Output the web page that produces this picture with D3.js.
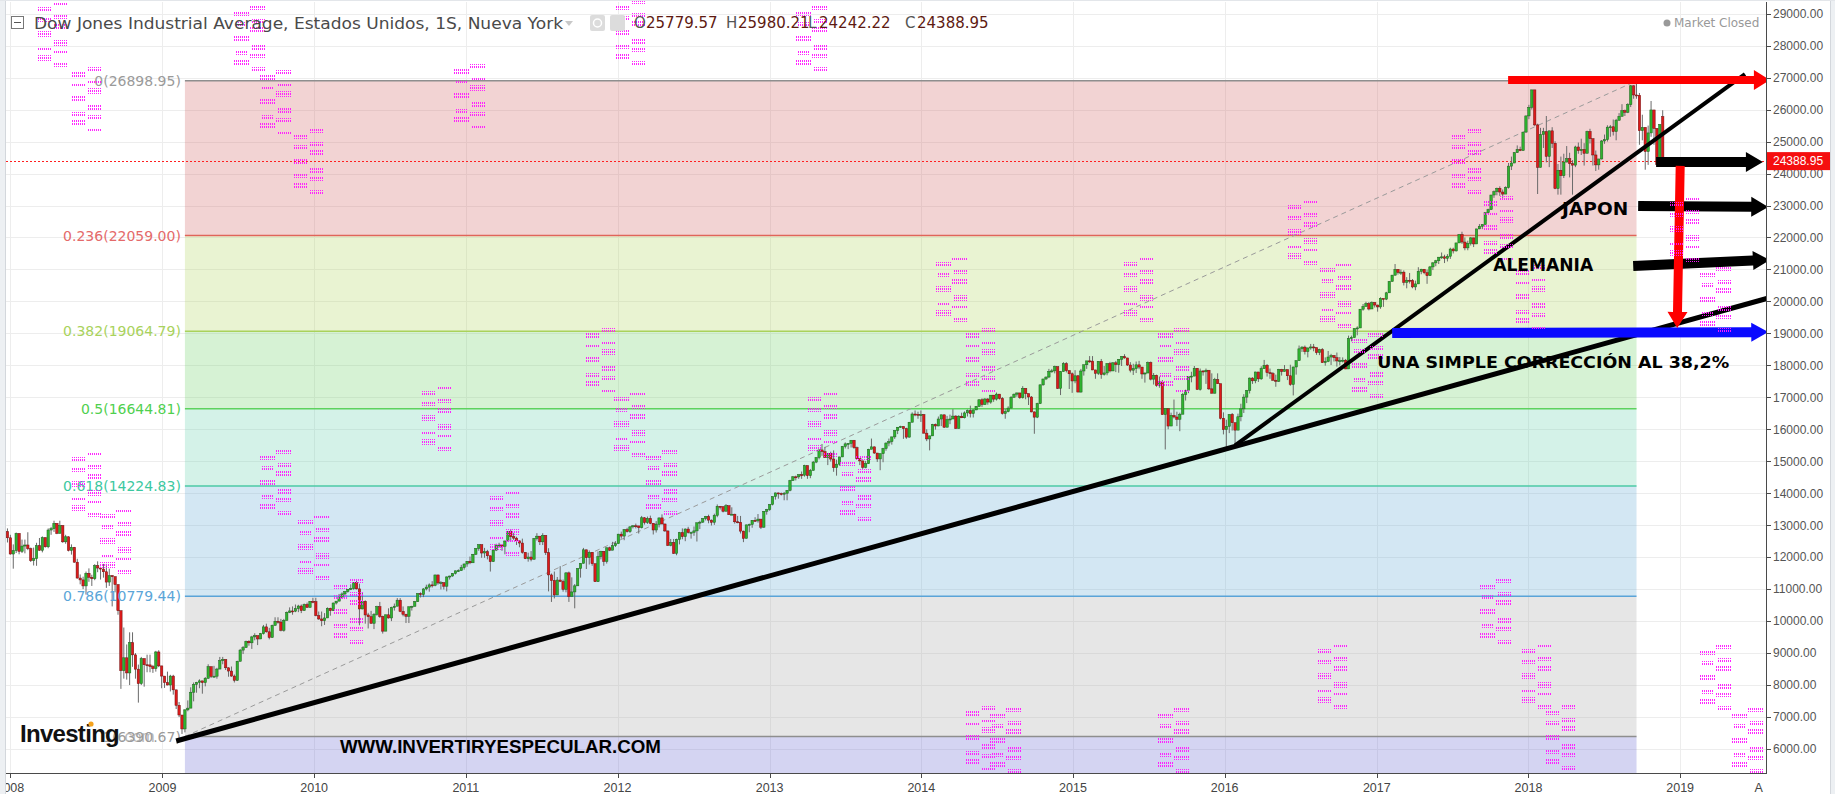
<!DOCTYPE html>
<html>
<head>
<meta charset="utf-8">
<script src="https://cdn.jsdelivr.net/npm/d3@7"></script>
<style>
  body { margin: 0; background: #fff; }
  svg { display: block; }
</style>
</head>
<body>
<div id="chart"></div>
<script>
// Dow Jones weekly candles, [close, high, low] per week, weeks start Monday 2007-12-31
const firstOpen = 13365;
const lastOpen = 25779.57;
const dj2008 = [[12800,13370,12790],[12606,12900,12460],[12099,12700,12080],[12207,12400,11640],[12743,12770,12130],[12182,12740,12090],[12348,12550,12130],[12381,12550,12120],[12266,12780,12220],
  [11894,12300,11850],[11951,12300,11740],[12361,12450,11730],[12216,12600,12200],[12609,12650,12150],
  [12325,12620,12300],[12849,12900,12280],[12892,12950,12700],[13058,13140,12790],
  [12746,13060,12720],[12987,13140,12740],[12480,13000,12450],[12638,12700,12420],
  [12210,12650,12180],[12307,12400,12080],[11843,12320,11830],[11347,11950,11330],[11289,11460,11150],
  [11101,11390,11000],[11497,11550,10830],[11371,11650,11230],[11326,11450,11100],
  [11734,11780,11280],[11660,11870,11530],[11628,11700,11300],[11544,11790,11360],
  [11221,11790,11040],[11422,11640,11100],[11388,11440,10460],[11143,11400,10900],[10325,11150,10200],
  [8451,10330,7880],[8852,9800,8200],[8379,9270,8170],[9325,9650,8000],
  [8944,9650,8570],[8497,9000,8200],[8046,8640,7450],[8829,8880,8000],
  [8635,8830,7950],[8630,8950,8400],[8579,8950,8400],[8516,8630,8380],[9035,9070,8420]];
const dj2009 = [[8599,9090,8560],[8281,8600,7900],[8078,8280,7910],[8001,8420,7990],
  [8281,8320,7800],[7850,8320,7700],[7366,7850,7250],[7063,7470,7000],
  [6627,7060,6470],[7224,7240,6520],[7278,7520,7180],[7776,7930,7280],[8018,8080,7490],
  [8083,8100,7760],[8131,8180,7900],[8076,8130,7730],[8212,8250,7960],
  [8575,8650,8200],[8269,8570,8220],[8277,8600,8240],[8500,8540,8200],
  [8763,8880,8500],[8799,8880,8650],[8540,8800,8470],[8438,8550,8260],[8281,8580,8260],
  [8147,8330,8080],[8744,8760,8130],[9093,9130,8740],[9172,9220,8970],
  [9370,9390,9180],[9321,9400,9230],[9506,9540,9130],[9544,9620,9400],[9441,9500,9250],
  [9605,9630,9440],[9820,9880,9580],[9665,9920,9640],[9488,9790,9430],
  [9865,9890,9480],[9996,10120,9860],[9972,10120,9920],[9713,10070,9680],
  [10023,10070,9670],[10270,10300,10020],[10318,10430,10250],[10310,10460,10200],[10389,10520,10280],
  [10472,10510,10280],[10329,10520,10250],[10520,10550,10330],[10428,10580,10420]];
const dj2010 = [[10618,10630,10430],[10610,10730,10560],[10173,10730,10150],[10067,10300,10040],
  [10012,10300,9840],[10099,10250,9880],[10402,10430,10100],[10325,10420,10170],
  [10566,10580,10320],[10625,10630,10520],[10742,10850,10620],[10850,10900,10700],[10927,10930,10800],
  [10997,11000,10890],[11019,11150,10970],[11204,11210,10980],[11009,11260,10990],
  [10380,11170,9870],[10620,10900,10370],[10193,10650,9920],[10137,10260,9770],
  [9932,10320,9920],[10211,10250,9750],[10451,10480,10170],[10144,10600,10100],[9686,10170,9610],
  [10198,10200,9690],[10098,10400,10080],[10425,10450,10000],[10466,10550,10330],
  [10654,10720,10470],[10303,10720,10280],[10214,10460,10150],[10151,10230,9940],[10448,10460,9940],
  [10463,10480,10330],[10608,10630,10460],[10860,10870,10600],[10830,10900,10740],
  [11006,11030,10750],[11063,11140,10960],[11133,11180,10920],[11118,11250,11050],
  [11444,11450,11090],[11193,11450,11140],[11204,11250,10990],[11092,11200,10990],[11382,11400,10930],
  [11410,11420,11300],[11492,11500,11390],[11573,11580,11460],[11578,11620,11540]];
const dj2011 = [[11675,11760,11580],[11787,11800,11610],[11872,11880,11700],[11824,12020,11780],[12092,12100,11820],
  [12273,12280,12070],[12391,12400,12200],[12130,12390,11980],[12170,12290,11980],
  [12044,12230,11930],[11859,12040,11550],[12221,12240,11850],[12377,12420,12190],
  [12380,12450,12300],[12342,12390,12200],[12506,12520,12090],[12811,12820,12500],
  [12639,12880,12480],[12596,12760,12540],[12512,12640,12380],[12442,12510,12310],[12151,12580,12110],
  [11952,12160,11940],[12004,12140,11860],[11935,12190,11870],[12583,12600,11930],
  [12657,12750,12520],[12480,12650,12380],[12681,12750,12380],[12143,12680,12070],
  [11445,12280,10930],[11269,11490,10600],[10818,11550,10710],[11285,11380,10820],[11240,11720,11220],
  [10992,11300,10920],[11509,11530,10900],[10771,11550,10600],[10913,11370,10780],
  [11103,11160,10400],[11644,11650,11100],[11809,11810,11360],[12231,12290,11800],[11983,12230,11630],
  [12154,12210,11770],[11796,12160,11730],[11232,11790,11230],[12019,12180,11250],
  [12184,12200,11930],[11866,12190,11730],[12294,12300,11800],[12218,12330,12190]];
const dj2012 = [[12360,12480,12220],[12422,12500,12320],[12720,12730,12420],[12660,12800,12580],[12862,12880,12530],
  [12801,12920,12770],[12950,12960,12760],[12983,13000,12900],[12978,13050,12900],
  [12922,12980,12740],[13233,13290,12900],[13081,13250,13020],[13212,13270,13040],
  [13060,13300,13030],[12850,13060,12710],[13029,13130,12770],[13228,13240,12930],[13038,13340,13030],
  [12821,13050,12790],[12369,12830,12350],[12455,12570,12340],[12119,12570,12100],
  [12554,12580,12060],[12767,12790,12400],[12641,12900,12560],[12880,12900,12500],
  [12772,12950,12740],[12777,12800,12580],[12823,12960,12670],[13076,13080,12490],[13096,13140,12880],
  [13208,13220,13070],[13275,13290,13150],[13158,13330,13060],[13091,13180,12990],
  [13307,13360,13010],[13593,13650,13250],[13579,13600,13490],[13437,13590,13400],
  [13610,13660,13440],[13329,13600,13320],[13344,13560,13320],[13107,13360,13050],[13093,13290,13060],
  [12815,13290,12740],[12588,12830,12470],[13010,13020,12590],[13026,13050,12780],
  [13155,13160,12920],[13135,13250,13100],[13191,13350,13080],[12938,13190,12880],[13435,13440,12920]];
const dj2013 = [[13488,13510,13330],[13650,13650,13450],[13896,13900,13620],[14010,14020,13800],
  [13993,14020,13830],[13982,14020,13930],[14001,14040,13780],[14090,14100,13780],
  [14397,14420,14060],[14514,14540,14390],[14512,14550,14400],[14579,14590,14450],
  [14565,14680,14450],[14865,14890,14520],[14548,14860,14450],[14713,14760,14470],[14974,15010,14710],
  [15118,15120,14940],[15354,15360,15060],[15303,15540,15170],[15116,15450,15110],
  [15248,15260,14880],[15070,15300,14990],[14799,15340,14670],[14910,15050,14550],
  [15136,15140,14860],[15464,15480,15130],[15544,15590,15400],[15559,15570,15380],[15658,15660,15430],
  [15426,15650,15390],[15081,15460,15070],[15011,15080,14880],[14810,15020,14760],
  [14923,15010,14780],[15376,15390,14920],[15451,15710,15380],[15258,15460,15230],[15073,15230,14980],
  [15237,15240,14720],[15400,15420,14970],[15570,15590,15330],[15616,15710,15470],
  [15762,15770,15520],[15962,15970,15700],[16065,16070,15850],[16086,16110,16040],
  [16020,16090,15700],[15755,16050,15700],[16221,16230,15740],[16478,16530,16230],[16470,16590,16410]];
const dj2014 = [[16437,16550,16330],[16459,16590,16230],[15879,16480,15870],[15699,16000,15630],
  [15794,15800,15340],[16154,16170,15790],[16103,16180,15990],[16322,16400,16100],
  [16453,16460,16100],[16066,16460,16040],[16303,16420,16060],[16323,16460,16160],[16413,16630,16320],
  [16027,16440,16010],[16409,16440,16020],[16361,16520,16350],[16513,16560,16340],
  [16583,16620,16400],[16491,16740,16370],[16606,16620,16370],[16717,16730,16600],
  [16924,16930,16700],[16776,16970,16700],[16947,16980,16760],[16852,16980,16770],[17068,17070,16800],
  [16944,17060,16860],[17100,17150,16900],[16961,17100,16930],[16493,17010,16460],
  [16554,16640,16330],[16663,16720,16530],[17001,17040,16660],[17098,17120,16990],
  [17137,17150,17020],[16988,17140,16950],[17280,17350,16960],[17113,17280,16940],[17010,17120,16760],
  [16544,17040,16530],[16380,16560,15860],[16805,16830,16350],[17391,17400,16790],
  [17574,17580,17360],[17635,17650,17540],[17810,17890,17600],[17828,17890,17770],
  [17959,17990,17750],[17281,17960,17260],[17805,17820,17070],[18054,18100,17810],[17833,18100,17780]];
const dj2015 = [[17737,17840,17260],[17512,17780,17140],[17673,17850,17440],[17165,17700,17160],
  [17824,17890,17150],[18019,18020,17680],[18140,18140,17890],[18133,18290,18080],
  [17857,18290,17850],[17749,17860,17580],[18128,18130,17700],[17713,18200,17580],[17763,17980,17680],
  [18058,18060,17690],[17826,18110,17780],[18080,18100,17820],[18024,18140,17790],
  [18191,18190,17770],[18273,18290,17980],[18232,18350,18210],[18011,18230,17980],
  [17849,18100,17780],[17899,18050,17700],[18016,18120,17760],[17947,18140,17880],[17730,17910,17580],
  [17760,17780,17460],[18086,18120,17760],[17569,18120,17530],[17690,17760,17400],
  [17373,17710,17330],[17477,17650,17300],[16460,17540,16450],[16643,16660,15370],[16102,16650,16000],
  [16433,16520,16130],[16385,16930,16340],[16315,16550,16100],[16472,16520,15940],
  [17084,17140,16480],[17216,17240,16900],[17647,17660,17130],[17664,17800,17470],
  [17910,17980,17670],[17245,17900,17240],[17824,17900,17210],[17798,17850,17680],[17848,17900,17420],
  [17265,17850,17230],[17129,17750,17120],[17552,17610,17120],[17425,17750,17420]];
const dj2016 = [[16346,17410,16310],[15988,16530,15840],[16094,16300,15450],[16466,16470,15880],
  [16205,16510,15960],[15974,16210,15500],[16392,16490,15990],[16640,16800,16250],[17007,17100,16510],
  [17213,17230,16820],[17602,17620,17120],[17516,17630,17420],[17793,17800,17440],
  [17577,17790,17480],[17897,17970,17550],[18004,18170,17890],[17774,18040,17650],
  [17741,17900,17580],[17535,17790,17520],[17501,17710,17330],[17873,17890,17480],[17807,17890,17680],
  [17865,18010,17820],[17675,17870,17540],[17401,18020,17360],[17949,17960,17060],
  [18147,18150,17710],[18517,18620,18160],[18571,18600,18420],[18432,18620,18340],
  [18544,18560,18250],[18576,18670,18490],[18553,18670,18440],[18395,18560,18330],[18492,18520,18320],
  [18085,18540,18080],[18124,18250,17990],[18261,18450,18100],[18308,18360,18010],
  [18240,18320,18120],[18138,18400,17960],[18146,18260,18000],[18161,18250,18090],[17888,18200,17880],
  [18848,18930,17900],[18868,18930,18750],[19152,19160,18900],[19170,19220,18940],
  [19757,19760,19180],[19843,19920,19710],[19934,19990,19840],[19763,19980,19720]];
const dj2017 = [[19964,19999,19780],[19886,19980,19810],[19827,19900,19680],[20094,20130,19770],[20071,20080,19830],
  [20269,20300,20040],[20624,20640,20300],[20822,20830,20620],[21006,21170,20800],
  [20903,21000,20840],[20915,21000,20830],[20597,20970,20500],[20663,20760,20410],
  [20656,20890,20560],[20453,20700,20410],[20548,20650,20350],[20941,21070,20600],
  [21007,21020,20850],[20897,21010,20850],[20805,21000,20550],[21080,21110,20820],[21206,21230,20980],
  [21272,21300,21100],[21384,21390,21170],[21395,21530,21330],[21350,21460,21200],
  [21414,21480,21250],[21638,21680,21330],[21580,21680,21500],[21830,21830,21560],[22093,22100,21850],
  [21858,22180,21800],[21675,22000,21600],[21814,21900,21600],[21988,22010,21750],
  [21798,21990,21700],[22268,22270,21980],[22350,22420,22260],[22405,22410,22260],
  [22774,22780,22420],[22872,22900,22740],[23329,23330,22870],[23434,23470,23240],[23539,23560,23320],
  [23422,23600,23300],[23358,23500,23240],[23558,23600,23360],[24232,24330,23530],
  [24329,24530,24110],[24652,24670,24330],[24754,24880,24650],[24719,24840,24700]];
const dj2018 = [[25296,25300,24770],[25803,25810,25280],[26072,26150,25700],[26617,26620,26000],[25521,26610,25490],
  [24191,25560,23360],[25219,25430,24200],[25310,25430,24800],[24538,25800,24350],
  [25336,25340,24200],[24947,25450,24800],[23533,25010,23510],[24103,24300,23340],
  [23933,24530,23340],[24360,24620,23860],[24463,24860,24350],[24311,24650,23880],[24263,24420,23340],
  [24831,24870,24200],[24715,24970,24620],[24753,25090,24580],[24635,24950,24250],
  [25317,25340,24680],[25090,25400,24940],[24581,25040,24250],[24271,24720,24080],
  [24456,24460,24120],[25019,25050,24440],[25058,25220,24930],[25451,25510,25000],[25463,25520,25150],
  [25313,25690,25190],[25669,25710,25040],[25790,25890,25650],[25965,26170,25860],
  [25917,26000,25800],[26155,26200,25890],[26744,26770,26080],[26458,26760,26340],
  [26447,26950,26340],[25340,26520,24900],[25444,25840,25040],[24688,25320,24120],[25271,25500,24270],
  [25989,26270,25150],[25413,25990,24900],[24286,25120,24260],[25538,25540,24280],
  [24389,25980,24242]];

// Fibonacci retracement drawn between the 2009 low and the 2018 high
const fibAnchors = [["2009-03-09", 6390.67], ["2018-10-01", 26898.95]];
const fibNames = ["0", "0.236", "0.382", "0.5", "0.618", "0.786", "1"];
const fibPrices = [26898.95, 22059.00, 19064.79, 16644.81, 14224.83, 10779.44, 6390.67];

// hand-drawn annotations (date, price)
const trendLines = [[["2009-02-16", 6250], ["2019-09-01", 20170]],
                    [["2016-02-08", 15500], ["2019-06-19", 27110]]];
const arrowEnds = [[["2017-11-26", 26930], ["2019-08-18", 26930]],
                   [["2018-11-17", 24360], ["2019-08-01", 24360]],
                   [["2018-10-05", 22985], ["2019-08-14", 22955]],
                   [["2018-09-23", 21110], ["2019-08-18", 21300]],
                   [["2017-02-20", 19010], ["2019-08-14", 19040]],
                   [["2019-01-14", 24240], ["2019-01-07", 19170]]];
const notes = ["JAPON", "ALEMANIA", "UNA SIMPLE CORRECCIÓN AL 38,2%", "WWW.INVERTIRYESPECULAR.COM"];
const noteAt = [["2018-04-05", 22890], ["2017-10-21", 21140], ["2017-01-15", 18105], ["2010-03-17", 6063]];

// stray magenta glyph blocks in the screenshot
const pinkAt = [["2008-03-18",29366],["2008-06-08",27333],["2009-07-05",29241],["2009-09-06",27239],["2009-11-24",25394],
  ["2010-12-16",27427],["2012-01-08",29429],["2013-03-18",29241],["2008-06-08",15290],["2008-08-17",13507],
  ["2009-09-06",15353],["2009-12-06",13320],["2010-02-28",11318],["2010-09-28",17355],["2011-03-11",14070],
  ["2011-10-28",19169],["2012-01-06",17167],["2012-03-22",15353],["2013-04-14",17167],["2013-07-02",15165],
  ["2014-02-18",21390],["2014-04-29",19169],["2014-04-29",7345],["2014-06-28",7282],["2015-05-14",21390],
  ["2015-08-07",19169],["2015-08-07",7282],["2016-06-12",23173],["2016-08-30",21202],["2016-08-23",9284],
  ["2016-11-15",19012],["2017-07-11",25394],["2017-09-27",23298],["2017-09-19",11318],["2017-12-12",21140],
  ["2017-12-27",9284],["2018-02-23",7376],["2018-12-18",23266],["2019-03-03",21077],["2019-03-03",9253],
  ["2019-05-19",7282]];

const xTickDates = ["2008-01-14","2009-01-14","2010-01-14","2011-01-14","2012-01-14","2013-01-14",
  "2014-01-14","2015-01-14","2016-01-14","2017-01-14","2018-01-14","2019-01-14","2019-07-27"];
const xTickLabels = ["2008","2009","2010","2011","2012","2013","2014","2015","2016","2017","2018","2019","A"];

const title = "Dow Jones Industrial Average, Estados Unidos, 1S, Nueva York";
const ohlcKeys = ["O", "H", "L", "C"];
const ohlcValues = ["25779.57", "25980.21", "24242.22", "24388.95"];
const lastPrice = 24388.95;

(function() {
  const W = 1835, H = 794;
  const left = 6, right = 1766, top = 2, bottom = 773;
  const parse = d3.timeParse("%Y-%m-%d");

  const svg = d3.select("#chart").append("svg")
    .attr("width", W).attr("height", H)
    .style("font-family", "'Liberation Sans', Arial, sans-serif");

  const x = d3.scaleTime()
    .domain([new Date(2009, 2, 2), new Date(2018, 11, 3)])
    .range([182, 1662.7]);
  const y = d3.scaleLinear().domain([5249, 29366]).range([bottom, top]);
  const px = p => [x(parse(p[0])), y(p[1])];

  const defs = svg.append("defs");
  defs.append("clipPath").attr("id", "plotclip")
    .append("rect").attr("x", left).attr("y", top).attr("width", right - left).attr("height", bottom - top);
  const pat = defs.append("pattern").attr("id", "pinkdots")
    .attr("patternUnits", "userSpaceOnUse").attr("width", 2).attr("height", 3);
  pat.append("rect").attr("width", 1).attr("height", 2).attr("fill", "#ff1aff");

  svg.append("rect").attr("width", W).attr("height", H).attr("fill", "#fff");

  const plot = svg.append("g").attr("clip-path", "url(#plotclip)");

  // grid
  const yTicks = d3.range(6000, 29001, 1000);
  plot.append("g").selectAll("line").data(yTicks).join("line")
    .attr("x1", left).attr("x2", right)
    .attr("y1", d => Math.round(y(d)) + 0.5).attr("y2", d => Math.round(y(d)) + 0.5)
    .attr("stroke", "#ededed");
  plot.append("g").selectAll("line").data(xTickDates.slice(0, 12)).join("line")
    .attr("x1", d => Math.round(x(parse(d))) + 0.5).attr("x2", d => Math.round(x(parse(d))) + 0.5)
    .attr("y1", top).attr("y2", bottom)
    .attr("stroke", "#ededed");

  // fib bands
  const fx1 = x(parse(fibAnchors[0][0])), fx2 = x(parse(fibAnchors[1][0]));
  const bandColors = ["rgb(212,108,108)", "rgb(182,215,105)", "rgb(118,212,112)", "rgb(112,212,178)",
                      "rgb(108,175,215)", "rgb(172,172,172)", "rgb(112,112,212)"];
  const lineColors = ["#8e8e8e", "#e0645a", "#a9d25c", "#5ed25e", "#4ccaa6", "#5aa4d8", "#8e8e8e"];
  const labelColors = ["#9a9a9a", "#e46a6a", "#a9d25c", "#4fd04f", "#3cc8a0", "#5aa5d8", "#9a9a9a"];
  const bandEdges = fibPrices.concat([y.domain()[0]]);
  plot.append("g").selectAll("rect").data(bandColors).join("rect")
    .attr("x", fx1).attr("width", fx2 - fx1)
    .attr("y", (d, i) => y(bandEdges[i]))
    .attr("height", (d, i) => y(bandEdges[i + 1]) - y(bandEdges[i]))
    .attr("fill", d => d).attr("fill-opacity", 0.3);
  plot.append("g").selectAll("line").data(fibPrices).join("line")
    .attr("x1", fx1).attr("x2", fx2)
    .attr("y1", d => y(d)).attr("y2", d => y(d))
    .attr("stroke", (d, i) => lineColors[i]).attr("stroke-width", 1.5);

  svg.append("g").style("font-family", "'DejaVu Sans', Verdana, sans-serif")
    .selectAll("text").data(fibPrices).join("text")
    .attr("x", fx1 - 4).attr("y", d => y(d)).attr("dy", "0.36em")
    .attr("text-anchor", "end").attr("font-size", 14)
    .attr("fill", (d, i) => labelColors[i])
    .text((d, i) => `${fibNames[i]}(${d.toFixed(2)})`);

  // fib diagonal
  plot.append("line")
    .attr("x1", px(fibAnchors[0])[0]).attr("y1", px(fibAnchors[0])[1])
    .attr("x2", px(fibAnchors[1])[0]).attr("y2", px(fibAnchors[1])[1])
    .attr("stroke", "#9a9a9a").attr("stroke-dasharray", "5,4");

  // last price line
  plot.append("line")
    .attr("x1", left).attr("x2", right)
    .attr("y1", Math.round(y(lastPrice)) + 0.5).attr("y2", Math.round(y(lastPrice)) + 0.5)
    .attr("stroke", "#ff2020").attr("stroke-dasharray", "2,2");

  // candles
  const rows = [].concat(dj2008, dj2009, dj2010, dj2011, dj2012, dj2013, dj2014, dj2015, dj2016, dj2017, dj2018);
  const weekStart = new Date(2007, 11, 31);
  let prev = firstOpen;
  const candles = rows.map((r, i) => {
    const c = { date: d3.timeDay.offset(weekStart, 7 * i), o: prev, c: r[0], h: r[1], l: r[2] };
    prev = r[0];
    return c;
  });
  candles[candles.length - 1].o = lastOpen;

  const cg = plot.append("g").selectAll("g").data(candles).join("g");
  cg.append("line")
    .attr("x1", d => x(d.date)).attr("x2", d => x(d.date))
    .attr("y1", d => y(Math.max(d.h, d.o, d.c))).attr("y2", d => y(Math.min(d.l, d.o, d.c)))
    .attr("stroke", "#6a6a6a").attr("stroke-width", 1);
  cg.append("rect")
    .attr("x", d => x(d.date) - 1.2).attr("width", 2.4)
    .attr("y", d => y(Math.max(d.o, d.c)))
    .attr("height", d => Math.max(1, Math.abs(y(d.o) - y(d.c))))
    .attr("fill", d => d.c >= d.o ? "#2fb32f" : "#dd1a1a")
    .attr("stroke", d => d.c >= d.o ? "#1d5e1d" : "#6e1010")
    .attr("stroke-width", 0.5);

  // trend lines
  const tw = [5, 4];
  svg.append("g").selectAll("line").data(trendLines).join("line")
    .attr("x1", d => px(d[0])[0]).attr("y1", d => px(d[0])[1])
    .attr("x2", d => px(d[1])[0]).attr("y2", d => px(d[1])[1])
    .attr("stroke", "#000").attr("stroke-width", (d, i) => tw[i]).attr("stroke-linecap", "butt");

  // arrows
  const arrowStyle = [
    { fill: "#ff0000", shaft: 8, headW: 20, headL: 16 },
    { fill: "#000", shaft: 10, headW: 20, headL: 17 },
    { fill: "#000", shaft: 10, headW: 20, headL: 17 },
    { fill: "#000", shaft: 10, headW: 19, headL: 17 },
    { fill: "#0a0aff", shaft: 10, headW: 19, headL: 17 },
    { fill: "#ff0000", shaft: 9, headW: 20, headL: 16 }
  ];
  function arrowPath(a, b, s) {
    const dx = b[0] - a[0], dy = b[1] - a[1], len = Math.hypot(dx, dy);
    const ux = dx / len, uy = dy / len, nx = -uy, ny = ux;
    const bx = b[0] - ux * s.headL, by = b[1] - uy * s.headL;
    const w = s.shaft / 2, h = s.headW / 2;
    const pts = [[a[0] + nx * w, a[1] + ny * w], [bx + nx * w, by + ny * w], [bx + nx * h, by + ny * h], b,
                 [bx - nx * h, by - ny * h], [bx - nx * w, by - ny * w], [a[0] - nx * w, a[1] - ny * w]];
    return "M" + pts.map(p => p[0].toFixed(1) + "," + p[1].toFixed(1)).join("L") + "Z";
  }
  svg.append("g").selectAll("path").data(arrowEnds).join("path")
    .attr("d", (d, i) => arrowPath(px(d[0]), px(d[1]), arrowStyle[i]))
    .attr("fill", (d, i) => arrowStyle[i].fill);

  // magenta blocks
  const leftRows = [[5, 5], [16, 4], [29, 6], [45, 4], [53, 6]];
  const rightRows = [[0, 4], [13, 4], [21, 6], [38, 6], [48, 4], [61, 4]];
  const pg = svg.append("g").attr("opacity", 0.95);
  pinkAt.forEach(p => {
    const [ax, ay] = px(p);
    leftRows.forEach((r, k) => pg.append("rect").attr("x", Math.round(ax) + (k % 2)).attr("y", Math.round(ay) + r[0])
      .attr("width", k % 2 ? 13 : 15).attr("height", r[1]).attr("fill", "url(#pinkdots)"));
    rightRows.forEach((r, k) => pg.append("rect").attr("x", Math.round(ax) + 16 + (k % 2)).attr("y", Math.round(ay) + r[0])
      .attr("width", k % 2 ? 14 : 15).attr("height", r[1]).attr("fill", "url(#pinkdots)"));
  });

  // annotation texts
  const noteStyle = [
    { size: 17, len: 66, font: "'DejaVu Sans', sans-serif" },
    { size: 17, len: 100, font: "'DejaVu Sans', sans-serif" },
    { size: 16, len: 352, font: "'DejaVu Sans', sans-serif" },
    { size: 18, len: 321, font: "'Liberation Sans', Arial, sans-serif" }
  ];
  svg.append("g").selectAll("text").data(notes).join("text")
    .attr("x", (d, i) => px(noteAt[i])[0]).attr("y", (d, i) => px(noteAt[i])[1])
    .attr("dy", "0.36em")
    .style("font-family", (d, i) => noteStyle[i].font)
    .attr("font-size", (d, i) => noteStyle[i].size)
    .attr("font-weight", "bold").attr("fill", "#000")
    .attr("textLength", (d, i) => noteStyle[i].len).attr("lengthAdjust", "spacingAndGlyphs")
    .text(d => d);

  // axes
  const xAxis = svg.append("g").attr("transform", `translate(0,${bottom})`);
  xAxis.append("line").attr("x1", left).attr("x2", right).attr("y1", 0.5).attr("y2", 0.5).attr("stroke", "#4a4a4a");
  xAxis.selectAll("line.tk").data(xTickDates.slice(0, 12)).join("line").attr("class", "tk")
    .attr("x1", d => Math.round(x(parse(d))) + 0.5).attr("x2", d => Math.round(x(parse(d))) + 0.5)
    .attr("y1", 0).attr("y2", 5).attr("stroke", "#4a4a4a");
  xAxis.selectAll("text").data(xTickDates).join("text")
    .attr("x", (d, i) => i === xTickDates.length - 1 ? x(parse(d)) - 2 : x(parse(d)))
    .attr("y", 14).attr("dy", "0.36em").attr("text-anchor", "middle")
    .attr("font-size", 12.5).attr("fill", "#444")
    .text((d, i) => xTickLabels[i]);

  const yAxis = svg.append("g").attr("transform", `translate(${right},0)`);
  yAxis.append("rect").attr("x", 0).attr("y", 0).attr("width", 66).attr("height", H).attr("fill", "#fff");
  yAxis.append("line").attr("x1", 0.5).attr("x2", 0.5).attr("y1", top).attr("y2", bottom + 1).attr("stroke", "#4a4a4a");
  yAxis.selectAll("line.tk").data(yTicks).join("line").attr("class", "tk")
    .attr("x1", 0).attr("x2", 5)
    .attr("y1", d => Math.round(y(d)) + 0.5).attr("y2", d => Math.round(y(d)) + 0.5)
    .attr("stroke", "#4a4a4a");
  yAxis.selectAll("text").data(yTicks).join("text")
    .attr("x", 7).attr("y", d => y(d)).attr("dy", "0.36em")
    .attr("font-size", 12).attr("fill", "#555")
    .text(d => d3.format(".2f")(d));
  yAxis.append("rect").attr("x", 1).attr("y", y(lastPrice) - 9).attr("width", 64).attr("height", 18).attr("fill", "#f50f0f");
  yAxis.append("text").attr("x", 7).attr("y", y(lastPrice)).attr("dy", "0.36em")
    .attr("font-size", 12).attr("fill", "#fff").text(lastPrice.toFixed(2));

  // header
  const hd = svg.append("g").style("font-family", "'DejaVu Sans', Verdana, sans-serif");
  hd.append("rect").attr("x", 11.5).attr("y", 16.5).attr("width", 12).attr("height", 12)
    .attr("fill", "#fff").attr("stroke", "#777");
  hd.append("line").attr("x1", 14).attr("x2", 21).attr("y1", 22.5).attr("y2", 22.5).attr("stroke", "#555");
  hd.append("text").attr("x", 34).attr("y", 23).attr("dy", "0.36em")
    .attr("font-size", 16).attr("fill", "#4a4a4a")
    .attr("textLength", 529).attr("lengthAdjust", "spacingAndGlyphs").text(title);
  hd.append("path").attr("d", "M565,21 L573,21 L569,26 Z").attr("fill", "#c8c8c8");
  [590, 610].forEach(v => hd.append("rect").attr("x", v).attr("y", 15).attr("width", 15).attr("height", 16)
    .attr("rx", 2).attr("fill", "#dcdcdc"));
  hd.append("circle").attr("cx", 597.5).attr("cy", 23).attr("r", 4).attr("fill", "none").attr("stroke", "#fff").attr("stroke-width", 1.5);
  const keyX = [634, 726, 808, 905], valX = [646, 738, 819, 917];
  ohlcKeys.forEach((k, i) => {
    hd.append("text").attr("x", keyX[i]).attr("y", 23).attr("dy", "0.36em")
      .attr("font-size", 15).attr("fill", "#555").text(k);
    hd.append("text").attr("x", valX[i]).attr("y", 23).attr("dy", "0.36em")
      .attr("font-size", 15).attr("fill", "#5e1a12").text(ohlcValues[i]);
  });
  hd.append("circle").attr("cx", 1667).attr("cy", 23).attr("r", 3.5).attr("fill", "#999");
  hd.append("text").attr("x", 1674).attr("y", 23).attr("dy", "0.36em")
    .attr("font-size", 12).attr("fill", "#999").text("Market Closed");

  // Investing.com logo
  const logo = svg.append("g");
  logo.append("text").attr("x", 20).attr("y", 742).attr("font-size", 24).attr("font-weight", "bold")
    .attr("letter-spacing", -0.7).attr("fill", "#111").text("Investing");
  logo.append("text").attr("x", 120).attr("y", 742).attr("font-size", 16)
    .attr("fill", "#9a9a9a").attr("opacity", 0.7).text(".com");
  logo.append("circle").attr("cx", 91).attr("cy", 724).attr("r", 2.6).attr("fill", "#f5a21c");

  // panel borders
  svg.append("rect").attr("x", 0).attr("y", 0).attr("width", 5).attr("height", H).attr("fill", "#edf0f3");
  svg.append("line").attr("x1", 5.5).attr("x2", 5.5).attr("y1", 0).attr("y2", H).attr("stroke", "#d3d7dc");
  svg.append("rect").attr("x", 1831).attr("y", 0).attr("width", 4).attr("height", H).attr("fill", "#edf0f3");
  svg.append("line").attr("x1", 1830.5).attr("x2", 1830.5).attr("y1", 0).attr("y2", H).attr("stroke", "#d3d7dc");
  svg.append("line").attr("x1", 0).attr("x2", W).attr("y1", 0.5).attr("y2", 0.5).attr("stroke", "#e3e6ea");
})();
</script>
</body>
</html>
